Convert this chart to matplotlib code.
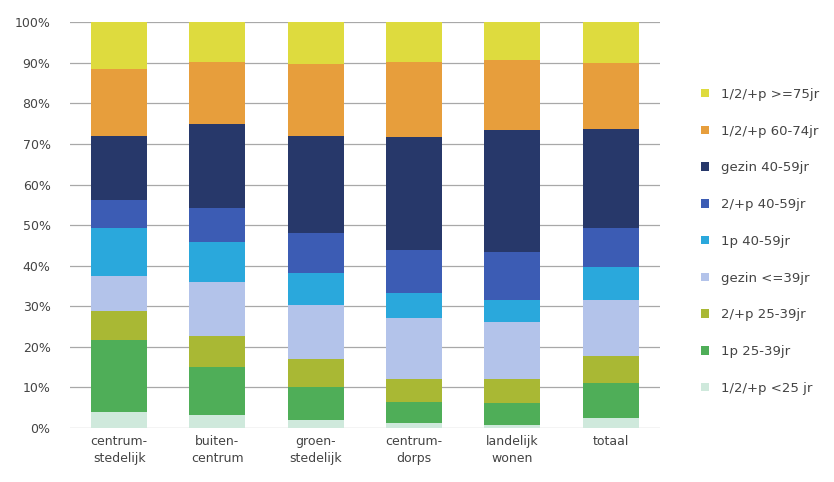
import numpy as np
import matplotlib.pyplot as plt

# woonmilieus en aandeel huishoudtypen (%)
milieus = ["centrum-\nstedelijk", "buiten-\ncentrum", "groen-\nstedelijk",
           "centrum-\ndorps", "landelijk\nwonen", "totaal"]

groepen = ["1/2/+p <25 jr", "1p 25-39jr", "2/+p 25-39jr", "gezin <=39jr",
           "1p 40-59jr", "2/+p 40-59jr", "gezin 40-59jr",
           "1/2/+p 60-74jr", "1/2/+p >=75jr"]

jong_lt25 = [4.0, 3.2, 2.0, 1.2, 0.7, 2.4]
een_25_39 = [17.7, 11.9, 8.0, 5.3, 5.4, 8.6]
twee_25_39 = [7.2, 7.6, 6.9, 5.7, 6.1, 6.7]
gezin_le39 = [8.5, 13.3, 13.4, 14.8, 14.0, 13.8]
een_40_59 = [11.8, 9.9, 7.8, 6.2, 5.3, 8.2]
twee_40_59 = [7.0, 8.2, 9.9, 10.6, 11.9, 9.5]
gezin_40_59 = [15.8, 20.9, 23.9, 27.8, 30.0, 24.4]
oud_60_74 = [16.4, 15.1, 17.7, 18.6, 17.4, 16.4]
oud_ge75 = [11.6, 9.9, 10.4, 9.8, 9.2, 10.0]

reeksen = [jong_lt25, een_25_39, twee_25_39, gezin_le39, een_40_59,
           twee_40_59, gezin_40_59, oud_60_74, oud_ge75]
kleuren = ["#cfe9dc", "#4fae58", "#a9b834", "#b3c3ea", "#2aa8dc",
           "#3c5cb4", "#27386a", "#e79e3c", "#dedb3e"]

fig = plt.figure(figsize=(8.34, 4.82), dpi=100)
ax = fig.add_axes([0.084, 0.112, 0.707, 0.842])

x = np.arange(len(milieus))
onder = np.zeros(len(milieus))
balken = []
for waarden, kleur, naam in zip(reeksen, kleuren, groepen):
    b = ax.bar(x, waarden, width=0.57, bottom=onder, color=kleur,
               label=naam, zorder=3, linewidth=0)
    balken.append(b)
    onder += np.array(waarden)

ax.set_xlim(-0.5, len(milieus) - 0.5)
ax.set_ylim(0, 100)
ax.set_yticks(np.arange(0, 101, 10))
ax.set_yticklabels([f"{v}%" for v in range(0, 101, 10)])
ax.set_xticks(x)
ax.set_xticklabels(milieus, linespacing=1.45)
ax.yaxis.grid(True, color="#a8a8a8", linewidth=0.9, zorder=0)
ax.tick_params(length=0, colors="#444444", labelsize=9)
ax.tick_params(axis="y", pad=14)
ax.tick_params(axis="x", pad=5)
for s in ax.spines.values():
    s.set_visible(False)

ax.legend(balken[::-1], groepen[::-1], loc="center left",
          bbox_to_anchor=(1.05, 0.46), frameon=False, fontsize=9.5,
          labelcolor="#444444", handlelength=0.6, handleheight=0.6,
          handletextpad=0.9, labelspacing=1.8)

fig.savefig("out.png", dpi=100)
